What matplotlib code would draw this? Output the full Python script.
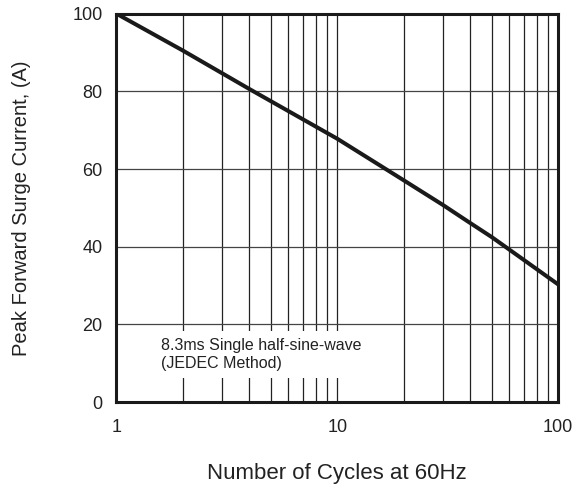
import matplotlib
matplotlib.use("Agg")
from matplotlib import pyplot as plt
import numpy as np

plt.rcParams['font.family'] = ['Liberation Sans', 'DejaVu Sans']

# surge current curve
cycles = [1, 2, 4, 10, 20, 30, 40, 50, 60, 100]
surge_current = [100, 90.5, 80.6, 67.8, 57.1, 50.8, 46.1, 42.5, 39.3, 30.3]

x_ticks = [1, 10, 100]
x_tick_labels = ["1", "10", "100"]
y_ticks = [0, 20, 40, 60, 80, 100]
grid_y = [20, 40, 60, 80]
grid_x = [2, 3, 4, 5, 6, 7, 8, 9, 10, 20, 30, 40, 50, 60, 70, 80, 90]

note = "8.3ms Single half-sine-wave\n(JEDEC Method)"

fig = plt.figure(figsize=(5.82, 4.88), dpi=100)
ax = fig.add_axes([0.2, 0.176, 0.759, 0.796])

ax.set_xscale("log")
ax.set_xlim(1, 100)
ax.set_ylim(0, 100)

for gx in grid_x:
    ax.axvline(gx, color="#222222", linewidth=0.9, zorder=1)
for gy in grid_y:
    ax.axhline(gy, color="#444444", linewidth=0.9, zorder=1)

ax.plot(cycles, surge_current, color="#1a1a1a", linewidth=2.9, zorder=3,
        solid_capstyle="butt", solid_joinstyle="round")

ax.text(1.6, 16.6, note, ha="left", va="top", fontsize=11.5, color="#222222",
        linespacing=1.3, zorder=2,
        bbox=dict(facecolor="white", edgecolor="none", pad=5))

ax.set_xticks(x_ticks)
ax.set_xticklabels(x_tick_labels)
ax.xaxis.set_minor_locator(plt.NullLocator())
ax.set_yticks(y_ticks)
ax.tick_params(axis="both", length=0, labelsize=13, colors="#222222")
ax.tick_params(axis="x", pad=12)
ax.tick_params(axis="y", pad=10)

for s in ax.spines.values():
    s.set_linewidth(2.2)
    s.set_color("#1a1a1a")

ax.set_xlabel("Number of Cycles at 60Hz", fontsize=16, color="#222222", va="center")
ax.xaxis.set_label_coords(0.5, -0.183)
ax.set_ylabel("Peak Forward Surge Current, (A)", fontsize=14.5, color="#222222", va="center")
ax.yaxis.set_label_coords(-0.215, 0.5)

plt.savefig("out.png", format="png", dpi=100)
